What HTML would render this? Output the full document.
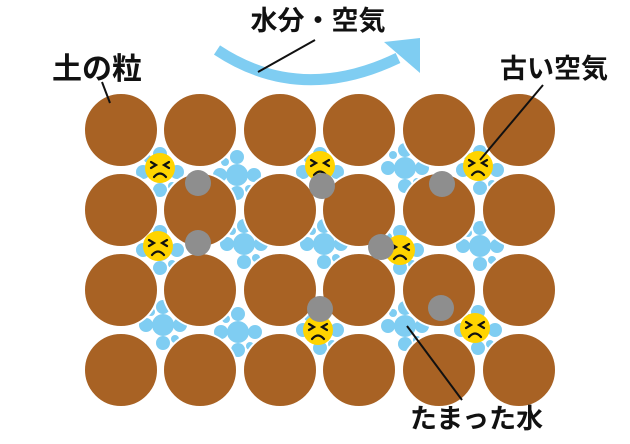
<!DOCTYPE html>
<html><head><meta charset="utf-8"><style>
html,body{margin:0;padding:0;background:#fff;width:630px;height:444px;overflow:hidden}
text{font-family:"Liberation Sans","Noto Sans CJK JP",sans-serif;font-weight:bold;fill:#111}
</style></head><body>
<svg width="630" height="444" viewBox="0 0 630 444" xmlns="http://www.w3.org/2000/svg">
<defs>
<g id="bl">
 <circle cx="0" cy="0" r="11" fill="#7fcdf2"/>
 <circle cx="-17" cy="0" r="7" fill="#7fcdf2"/>
 <circle cx="17" cy="0" r="7" fill="#7fcdf2"/>
 <circle cx="0" cy="-18" r="7" fill="#7fcdf2"/>
 <circle cx="0" cy="18" r="7" fill="#7fcdf2"/>
 <circle cx="-12" cy="-13" r="4" fill="#7fcdf2"/>
 <circle cx="12" cy="14" r="4" fill="#7fcdf2"/>
</g>
<g id="face">
 <circle r="15" fill="#ffd400"/>
 <path d="M-9,-6 L-4,-3 L-9,0 M9,-6 L4,-3 L9,0 M-6,9 Q0,2 6,9" stroke="#111" stroke-width="2.2" fill="none" stroke-linecap="round"/>
</g>
</defs>
<use href="#bl" x="160" y="172"/><use href="#bl" x="237" y="175"/><use href="#bl" x="320" y="172"/><use href="#bl" x="405" y="168"/><use href="#bl" x="480" y="170"/>
<use href="#bl" x="160" y="250"/><use href="#bl" x="244" y="244"/><use href="#bl" x="324" y="244"/><use href="#bl" x="400" y="250"/><use href="#bl" x="480" y="246"/>
<use href="#bl" x="163" y="325"/><use href="#bl" x="238" y="332"/><use href="#bl" x="320" y="330"/><use href="#bl" x="405" y="326"/><use href="#bl" x="478" y="330"/>
<g fill="#a86224" stroke="#fff" stroke-width="2">
<circle cx="121" cy="130" r="37"/><circle cx="200" cy="130" r="37"/><circle cx="280" cy="130" r="37"/><circle cx="359" cy="130" r="37"/><circle cx="439" cy="130" r="37"/><circle cx="519" cy="130" r="37"/>
<circle cx="121" cy="210" r="37"/><circle cx="200" cy="210" r="37"/><circle cx="280" cy="210" r="37"/><circle cx="359" cy="210" r="37"/><circle cx="439" cy="210" r="37"/><circle cx="519" cy="210" r="37"/>
<circle cx="121" cy="290" r="37"/><circle cx="200" cy="290" r="37"/><circle cx="280" cy="290" r="37"/><circle cx="359" cy="290" r="37"/><circle cx="439" cy="290" r="37"/><circle cx="519" cy="290" r="37"/>
<circle cx="121" cy="370" r="37"/><circle cx="200" cy="370" r="37"/><circle cx="280" cy="370" r="37"/><circle cx="359" cy="370" r="37"/><circle cx="439" cy="370" r="37"/><circle cx="519" cy="370" r="37"/>
</g>
<use href="#face" x="160" y="168"/><use href="#face" x="320" y="166"/><use href="#face" x="478" y="166"/>
<use href="#face" x="158" y="246"/><use href="#face" x="400" y="250"/>
<use href="#face" x="318" y="330"/><use href="#face" x="475" y="328"/>
<g fill="#8e8e8e">
<circle cx="198" cy="183" r="13"/><circle cx="322" cy="186" r="13"/><circle cx="442" cy="184" r="13"/>
<circle cx="198" cy="243" r="13"/><circle cx="381" cy="247" r="13"/>
<circle cx="320" cy="309" r="13"/><circle cx="441" cy="308" r="13"/>
</g>
<path d="M217,50 Q300,105 398,58" stroke="#7fcdf2" stroke-width="11" fill="none"/>
<polygon points="384,42 420,38 420,73" fill="#7fcdf2"/>
<line x1="258" y1="72" x2="315" y2="40" stroke="#111" stroke-width="2"/>
<text x="318" y="30" font-size="27" text-anchor="middle">水分・空気</text>
<text x="52" y="79" font-size="30">土の粒</text>
<line x1="102" y1="82" x2="110" y2="103" stroke="#111" stroke-width="2"/>
<text x="500" y="78" font-size="27">古い空気</text>
<line x1="543" y1="85" x2="480" y2="160" stroke="#111" stroke-width="2"/>
<text x="410" y="428" font-size="27">たまった水</text>
<line x1="407" y1="326" x2="462" y2="400" stroke="#111" stroke-width="2"/>
</svg>
</body></html>
